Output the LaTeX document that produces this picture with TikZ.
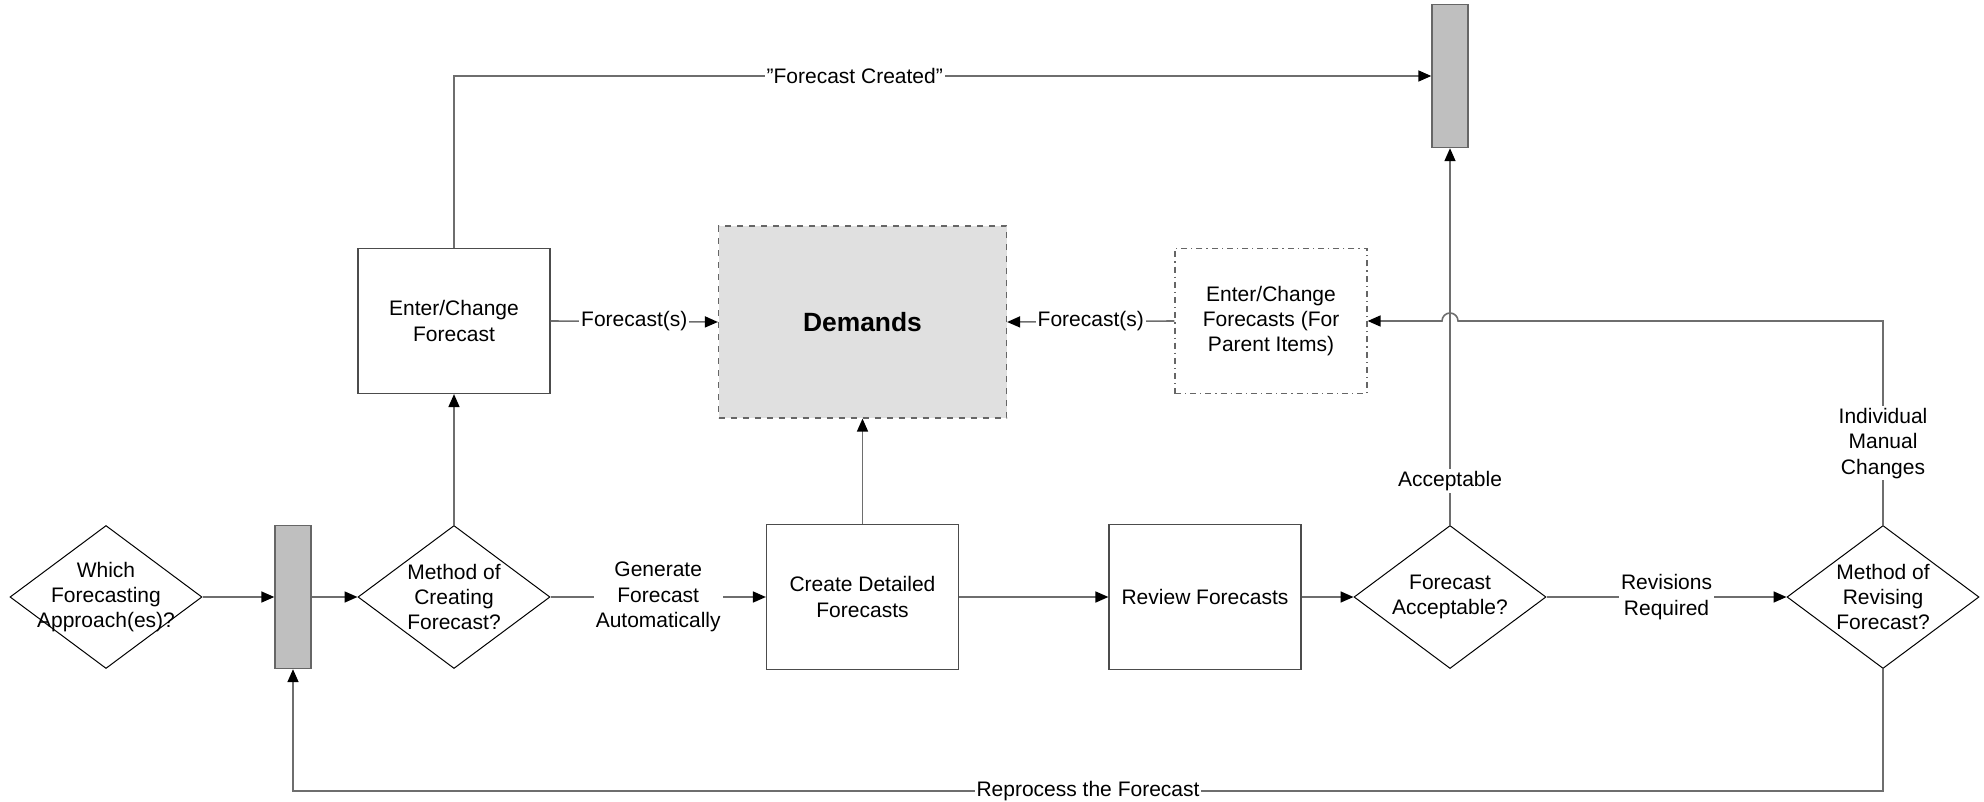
\documentclass[tikz,border=0pt]{standalone}
\usepackage{fontspec}
\setmainfont{Liberation Sans}[Ligatures=ResetAll]
\usetikzlibrary{shapes.geometric,arrows.meta}
\begin{document}
\begin{tikzpicture}[x=0.5pt,y=-0.5pt,
  every node/.style={font=\fontsize{10.5}{12.6}\selectfont, align=center, text=black},
  box/.style={draw=black!70, line width=0.6pt, minimum width=96pt, minimum height=72.5pt, inner sep=0pt},
  dia/.style={diamond, draw=black, line width=0.5pt, minimum width=96pt, minimum height=71.5pt, inner sep=0pt},
  bar/.style={draw=black!60, fill=black!25, line width=0.7pt, minimum width=18pt, minimum height=71.5pt, inner sep=0pt},
  edge/.style={draw=black!57, line width=0.8pt},
  arr/.style={edge, -{Triangle[length=6.5pt,width=5.5pt,color=black]}},
  lbl/.style={fill=white, inner sep=1pt},
]
\useasboundingbox (0,0) rectangle (1984,802);

% nodes
\node[dia, label={[align=center]center:Which\\Forecasting\\Approach(es)?}] (which) at (106,597) {};
\node[bar] (bar1) at (293,597) {};
\node[dia, label={[align=center]center:Method of\\Creating\\Forecast?}] (mc) at (454,597) {};
\node[box] (ecf) at (454,321) {Enter/Change\\Forecast};
\node[box, fill=black!12, draw=black!60, dashed, minimum width=144pt, minimum height=96pt,
      font=\fontsize{13.2}{15}\selectfont\bfseries] (dem) at (862.5,322) {Demands};
\node[box] (cdf) at (862.5,597) {Create Detailed\\Forecasts};
\node[box] (rev) at (1205,597) {Review Forecasts};
\node[dia, label={[align=center]center:Forecast\\Acceptable?}] (fa) at (1450,597) {};
\node[dia, label={[align=center]center:Method of\\Revising\\Forecast?}] (mr) at (1883,597) {};
\node[box, dash dot, draw=black!60] (par) at (1271,321) {Enter/Change\\Forecasts (For\\Parent Items)};
\node[bar] (bar2) at (1450,76) {};

% connectors
\draw[arr] (which.east) -- (bar1.west);
\draw[arr] (bar1.east) -- (mc.west);
\draw[arr] (mc.north) -- (ecf.south);
\draw[arr] (ecf.north) |- node[lbl, pos=0.705] {"Forecast Created"} (bar2.west);
\draw[arr] (ecf.east) -- node[lbl] {Forecast(s)} (dem.west);
\draw[arr] (mc.east) -- node[lbl] {Generate\\Forecast\\Automatically} (cdf.west);
\draw[arr] (cdf.north) -- (dem.south);
\draw[arr] (cdf.east) -- (rev.west);
\draw[arr] (rev.east) -- (fa.west);
\draw[arr] (fa.east) -- node[lbl] {Revisions\\Required} (mr.west);
\draw[arr] (fa.north) -- node[lbl, pos=0.117] {Acceptable} (bar2.south);
\draw[arr] (par.west) -- node[lbl] {Forecast(s)} (dem.east);
\coordinate (imc) at (1883,321);
\coordinate (jr) at (1458,321);
\draw[arr] (mr.north) -- node[lbl, pos=0.40] {Individual\\Manual\\Changes} (imc)
   -- (jr) arc[start angle=0, end angle=180, radius=4pt] -- (par.east);
\coordinate (rp) at (1883,791);
\draw[arr] (mr.south) -- (rp) -| node[lbl, pos=0.25] {Reprocess the Forecast} (bar1.south);
\end{tikzpicture}
\end{document}
